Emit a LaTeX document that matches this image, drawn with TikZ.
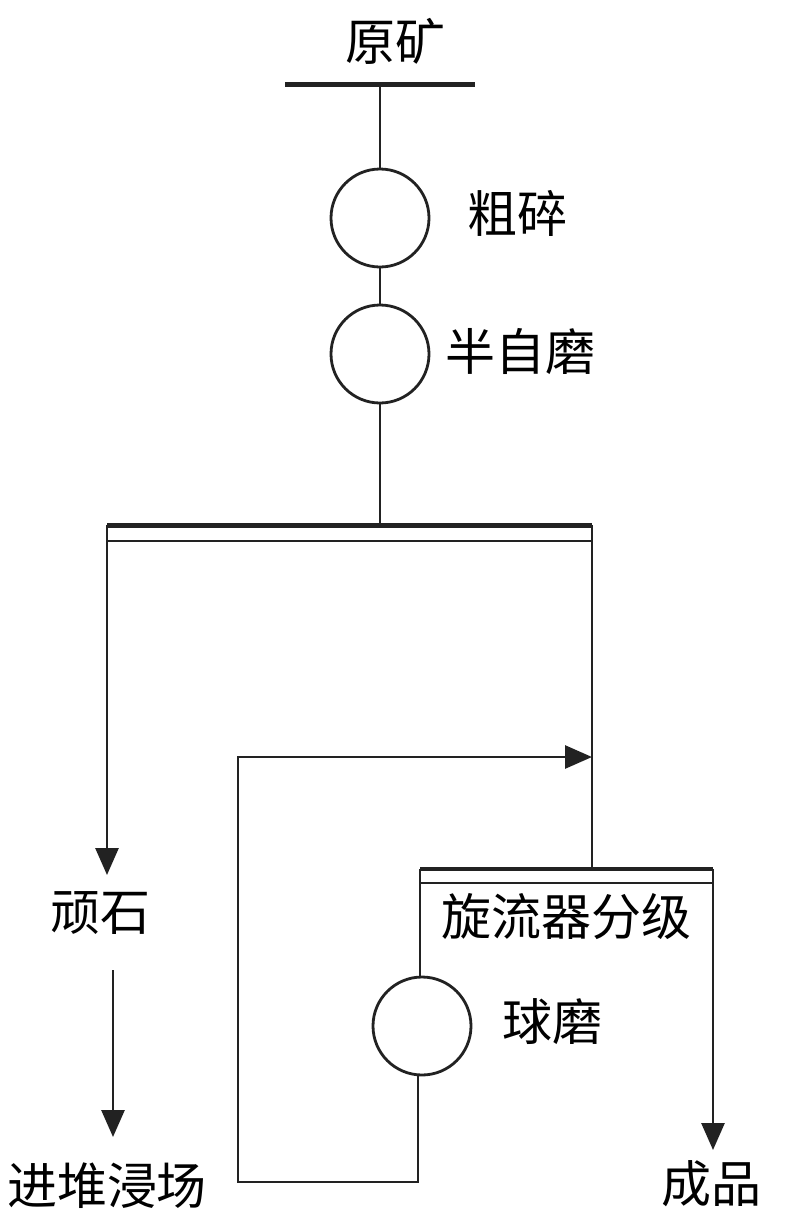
\documentclass[tikz,border=0pt]{standalone}
\usepackage{fontspec}
\newfontfamily\cjk{Noto Sans CJK SC}
\usetikzlibrary{arrows.meta}
\definecolor{ink}{HTML}{222222}
\tikzset{
  lbl/.style={font=\cjk\fontsize{50}{50}\selectfont, text=black, inner sep=0pt},
  mill/.style={draw=ink, circle, minimum size=98pt, inner sep=0pt, line width=2.8pt},
  flow/.style={draw=ink, line width=2.8pt},
  arr/.style={flow, -{Triangle[length=27pt,width=23pt]}},
  heavy/.style={draw=ink, line width=5pt},
}
\begin{document}
\begin{tikzpicture}[x=1pt,y=-1pt]
\useasboundingbox[fill=white] (0,0) rectangle (800,1229);
% feed
\node[lbl] (ore) at (395,41) {原矿};
\coordinate (feedL) at (285,84);
\coordinate (feedR) at (475,84);
\coordinate (feedM) at (380,84);
\draw[heavy] (feedL) -- (feedR);
% primary crusher and SAG mill
\node[mill] (crush) at (380,218) {};
\node[lbl] (crushT) at (517,213) {粗碎};
\node[mill] (sag) at (380,354) {};
\node[lbl] (sagT) at (520,352) {半自磨};
\draw[flow] (feedM) -- (crush);
\draw[flow] (crush) -- (sag);
% screen
\coordinate (scrTL) at (107,525);
\coordinate (scrTR) at (592,525);
\coordinate (scrBL) at (107,541);
\coordinate (scrBR) at (592,541);
\coordinate (scrM) at (380,525);
\draw[flow] (sag) -- (scrM);
\draw[heavy] (scrTL) -- (scrTR);
\draw[flow] (scrBL) -- (scrBR);
% pebbles
\coordinate (pebTip) at (107,875);
\draw[arr] (scrTL) -- (pebTip);
\node[lbl] (peb) at (100,913) {顽石};
\coordinate (heapS) at (113,970);
\coordinate (heapTip) at (113,1137);
\draw[arr] (heapS) -- (heapTip);
\node[lbl] (heap) at (107,1186) {进堆浸场};
% cyclone
\coordinate (cycTL) at (420,869);
\coordinate (cycTR) at (713,869);
\coordinate (cycBL) at (420,883);
\coordinate (cycBR) at (713,883);
\coordinate (cycIn) at (592,869);
\draw[flow] (scrTR) -- (cycIn);
\draw[flow, line width=3.8pt] (cycTL) -- (cycTR);
\draw[flow] (cycBL) -- (cycBR);
\node[lbl] (cycT) at (566,917) {旋流器分级};
% ball mill
\node[mill] (ball) at (422,1026) {};
\node[lbl] (ballT) at (552,1022) {球磨};
\draw[flow] (cycTL) -- (cycTL |- ball.north);
% product
\coordinate (prodTip) at (713,1150);
\draw[arr] (cycTR) -- (prodTip);
\node[lbl] (prod) at (711,1184) {成品};
% recycle
\coordinate (rcB) at (418,1182);
\coordinate (rcL) at (238,1182);
\coordinate (rcT) at (238,757);
\coordinate (merge) at (592,757);
\draw[arr, line join=miter] (rcB |- ball.south) -- (rcB) -- (rcL) -- (rcT) -- (merge);
\end{tikzpicture}
\end{document}
